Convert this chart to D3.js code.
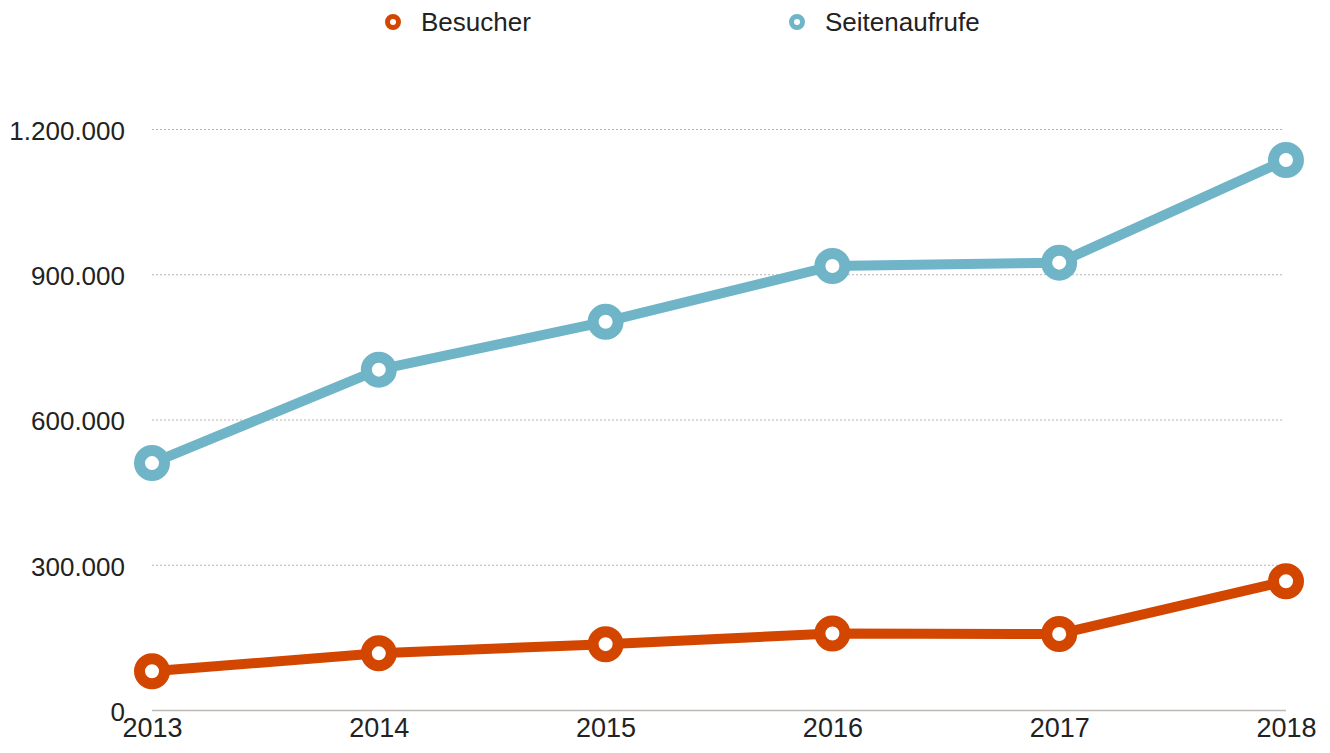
<!DOCTYPE html>
<html>
<head>
<meta charset="utf-8">
<script src="https://cdn.jsdelivr.net/npm/d3@7"></script>
<style>
  body { margin: 0; background: #fff; }
  svg { display: block; font-family: "Liberation Sans", Arial, sans-serif; }
</style>
</head>
<body>
<div id="chart"></div>
<script>
const years = ["2013", "2014", "2015", "2016", "2017", "2018"];
const besucher = [80000, 117000, 136000, 158000, 157000, 266000];
const seitenaufrufe = [510000, 703000, 802000, 917000, 924000, 1136000];
const yTicks = [0, 300000, 600000, 900000, 1200000];
const seriesNames = ["Besucher", "Seitenaufrufe"];
const seriesColors = ["#d24600", "#6fb4c7"];

const width = 1330;
const height = 753;
const margin = { top: 129, bottom: 43, left: 152, right: 44 };

const svg = d3
  .select("#chart")
  .append("svg")
  .attr("width", width)
  .attr("height", height);

const xScale = d3
  .scalePoint()
  .domain(years)
  .range([margin.left, width - margin.right]);

const yScale = d3
  .scaleLinear()
  .domain([0, 1200000])
  .range([height - margin.bottom, margin.top]);

const fmt = d3.formatLocale({ decimal: ",", thousands: ".", grouping: [3], currency: ["", "€"] }).format(",d");

// gridlines (dotted) except baseline
svg
  .append("g")
  .selectAll("line")
  .data(yTicks.filter((d) => d > 0))
  .enter()
  .append("line")
  .attr("x1", margin.left)
  .attr("x2", width - margin.right - 3)
  .attr("y1", (d) => yScale(d) + 0.5)
  .attr("y2", (d) => yScale(d) + 0.5)
  .attr("stroke", "#b5b5b5")
  .attr("stroke-width", 1)
  .attr("stroke-dasharray", "2,2");

// baseline
svg
  .append("line")
  .attr("x1", margin.left)
  .attr("x2", width - margin.right)
  .attr("y1", yScale(0) + 0.5)
  .attr("y2", yScale(0) + 0.5)
  .attr("stroke", "#bdbab5")
  .attr("stroke-width", 1.5);

// y axis labels
const yAxis = svg
  .append("g")
  .attr("transform", `translate(${margin.left - 27}, 0)`)
  .call(d3.axisLeft(yScale).tickValues(yTicks).tickFormat(fmt).tickSize(0).tickPadding(0));
yAxis.select(".domain").remove();
yAxis
  .selectAll("text")
  .attr("dy", "0.4em")
  .style("font-size", "26px")
  .style("font-family", "Liberation Sans, Arial, sans-serif")
  .attr("fill", "#222");

// x axis labels
const xAxis = svg
  .append("g")
  .attr("transform", `translate(0, ${yScale(0)})`)
  .call(d3.axisBottom(xScale).tickSize(0).tickPadding(19));
xAxis.select(".domain").remove();
xAxis
  .selectAll("text")
  .attr("dy", "0.3em")
  .style("font-size", "27px")
  .style("font-family", "Liberation Sans, Arial, sans-serif")
  .attr("fill", "#222");

// lines + markers
const series = [besucher, seitenaufrufe];
const line = d3
  .line()
  .x((d, i) => xScale(years[i]))
  .y((d) => yScale(d));

series.forEach((values, s) => {
  svg
    .append("path")
    .datum(values)
    .attr("d", line)
    .attr("fill", "none")
    .attr("stroke", seriesColors[s])
    .attr("stroke-width", 10)
    .attr("stroke-linejoin", "round");

  svg
    .append("g")
    .selectAll("circle")
    .data(values)
    .enter()
    .append("circle")
    .attr("cx", (d, i) => xScale(years[i]))
    .attr("cy", (d) => yScale(d))
    .attr("r", 12.5)
    .attr("fill", "#fff")
    .attr("stroke", seriesColors[s])
    .attr("stroke-width", 11);
});

// legend
const legendX = [393, 797];
seriesNames.forEach((name, i) => {
  const g = svg.append("g").attr("transform", `translate(${legendX[i]}, 22)`);
  g.append("circle")
    .attr("r", 5.5)
    .attr("fill", "#fff")
    .attr("stroke", seriesColors[i])
    .attr("stroke-width", 5);
  g.append("text")
    .attr("x", 28)
    .attr("y", 0)
    .attr("dy", "0.35em")
    .style("font-size", "26px")
    .attr("fill", "#222")
    .text(name);
});
</script>
</body>
</html>
